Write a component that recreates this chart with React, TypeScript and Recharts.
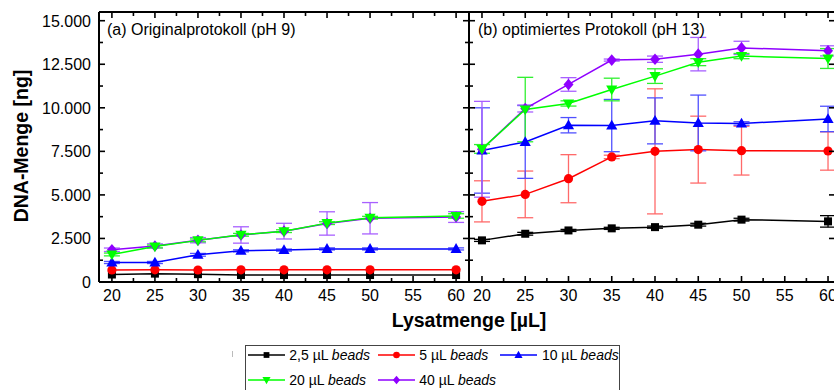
import React from "react";
import { LineChart, Line, XAxis, YAxis, ErrorBar } from "recharts";

const FONT = "Arial, 'Liberation Sans', Helvetica, sans-serif";

// ---------- data ----------
const lysatmenge = [20, 25, 30, 35, 40, 45, 50, 60];

const xMajorTicks = [20, 25, 30, 35, 40, 45, 50, 55, 60];
const xMinorTicks = [22.5, 27.5, 32.5, 37.5, 42.5, 47.5, 52.5, 57.5];
const yMajorTicks = [0, 2500, 5000, 7500, 10000, 12500, 15000];
const yTickLabels = ["0", "2.500", "5.000", "7.500", "10.000", "12.500", "15.000"];
const yMinorTicks = [1250, 3750, 6250, 8750, 11250, 13750];

const seriesNames = ["2,5 µL", "5 µL", "10 µL", "20 µL", "40 µL"];
const seriesColors = ["#000000", "#ff0000", "#0000ff", "#00ff00", "#8f00ff"];
const seriesShapes = ["square", "circle", "up", "down", "diamond"];

// (a) Originalprotokoll (pH 9)
const origBeads2_5 = [430, 480, 450, 400, 400, 400, 400, 400];
const origBeads2_5Err = [0, 0, 0, 0, 0, 0, 0, 0];
const origBeads5 = [690, 700, 690, 700, 700, 700, 700, 700];
const origBeads5Err = [0, 0, 0, 0, 0, 0, 0, 0];
const origBeads10 = [1120, 1120, 1560, 1790, 1830, 1900, 1900, 1900];
const origBeads10Err = [60, 60, 80, 60, 60, 60, 60, 60];
const origBeads20 = [1580, 2040, 2390, 2710, 2920, 3380, 3690, 3790];
const origBeads20Err = [80, 80, 80, 80, 80, 80, 80, 130];
const origBeads40 = [1850, 2070, 2400, 2700, 2920, 3360, 3660, 3730];
const origBeads40Err = [100, 120, 150, 470, 450, 670, 900, 310];

// (b) optimiertes Protokoll (pH 13)
const optBeads2_5 = [2390, 2770, 2960, 3080, 3150, 3290, 3580, 3480];
const optBeads2_5Err = [60, 80, 60, 60, 60, 80, 80, 330];
const optBeads5 = [4630, 5030, 5930, 7180, 7500, 7600, 7540, 7520];
const optBeads5Err = [1180, 1340, 1380, 100, 3590, 1920, 1400, 1100];
const optBeads10 = [7550, 8040, 9000, 8980, 9250, 9130, 9100, 9360];
const optBeads10Err = [2450, 2090, 440, 1500, 1320, 1600, 100, 730];
const optBeads20 = [7640, 9900, 10250, 11050, 11820, 12620, 12970, 12830];
const optBeads20Err = [250, 1850, 150, 650, 420, 200, 150, 570];
const optBeads40 = [7620, 9960, 11340, 12740, 12790, 13080, 13440, 13270];
const optBeads40Err = [2750, 200, 390, 60, 180, 960, 380, 290];

const panelA = lysatmenge.map((x, i) => ({
  x,
  s0: origBeads2_5[i], e0: origBeads2_5Err[i],
  s1: origBeads5[i], e1: origBeads5Err[i],
  s2: origBeads10[i], e2: origBeads10Err[i],
  s3: origBeads20[i], e3: origBeads20Err[i],
  s4: origBeads40[i], e4: origBeads40Err[i],
}));

const panelB = lysatmenge.map((x, i) => ({
  x,
  s0: optBeads2_5[i], e0: optBeads2_5Err[i],
  s1: optBeads5[i], e1: optBeads5Err[i],
  s2: optBeads10[i], e2: optBeads10Err[i],
  s3: optBeads20[i], e3: optBeads20Err[i],
  s4: optBeads40[i], e4: optBeads40Err[i],
}));

const xAllTicks = [...xMajorTicks, ...xMinorTicks].sort((a, b) => a - b);
const yAllTicks = [...yMajorTicks, ...yMinorTicks].sort((a, b) => a - b);
const X_DOMAIN: [number, number] = [18.5, 61.5];
const Y_DOMAIN: [number, number] = [0, 15500];

const isXMajor = (v: number) => xMajorTicks.includes(v);
const yLabelOf = (v: number) => {
  const i = yMajorTicks.indexOf(v);
  return i >= 0 ? yTickLabels[i] : null;
};

// ---------- markers ----------
function Marker({ shape, cx, cy, color, s = 1 }: any) {
  if (shape === "square")
    return <rect x={cx - 4 * s} y={cy - 4 * s} width={8 * s} height={8 * s} fill={color} />;
  if (shape === "circle") return <circle cx={cx} cy={cy} r={4.6 * s} fill={color} />;
  if (shape === "up")
    return (
      <polygon
        points={`${cx},${cy - 5.8 * s} ${cx + 5.6 * s},${cy + 4 * s} ${cx - 5.6 * s},${cy + 4 * s}`}
        fill={color}
      />
    );
  if (shape === "down")
    return (
      <polygon
        points={`${cx},${cy + 5.8 * s} ${cx + 5.6 * s},${cy - 4 * s} ${cx - 5.6 * s},${cy - 4 * s}`}
        fill={color}
      />
    );
  return (
    <polygon
      points={`${cx},${cy - 5.8 * s} ${cx + 5 * s},${cy} ${cx},${cy + 5.8 * s} ${cx - 5 * s},${cy}`}
      fill={color}
    />
  );
}

const makeDot = (shape: string, color: string) => (props: any) => {
  const { cx, cy, index } = props;
  if (cx == null || cy == null) return <g key={`d-${index}`} />;
  return (
    <g key={`d-${shape}-${index}`}>
      <Marker shape={shape} cx={cx} cy={cy} color={color} />
    </g>
  );
};

// ---------- ticks ----------
const BottomTick = (props: any) => {
  const { x, y, payload } = props;
  const v = payload.value;
  const major = isXMajor(v);
  return (
    <g>
      <line x1={x} x2={x} y1={y} y2={y - (major ? 6 : 4)} stroke="#000" strokeWidth={1.6} />
      {major && (
        <text x={x} y={y + 19} textAnchor="middle" fontSize={16} fontFamily={FONT} fill="#000">
          {v}
        </text>
      )}
    </g>
  );
};

const TopTick = (props: any) => {
  const { x, y, payload } = props;
  const major = isXMajor(payload.value);
  return <line x1={x} x2={x} y1={y} y2={y + (major ? 6 : 4)} stroke="#000" strokeWidth={1.6} />;
};

const LeftTick = (props: any) => {
  const { x, y, payload, showLabel } = props;
  const label = yLabelOf(payload.value);
  const major = label !== null;
  return (
    <g>
      <line x1={x} x2={x + (major ? 6 : 4)} y1={y} y2={y} stroke="#000" strokeWidth={1.6} />
      {showLabel && major && (
        <text x={x - 8} y={y + 6} textAnchor="end" fontSize={16} fontFamily={FONT} fill="#000">
          {label}
        </text>
      )}
    </g>
  );
};

const RightTick = (props: any) => {
  const { x, y, payload, majorLen, minorLen } = props;
  const major = yLabelOf(payload.value) !== null;
  return <line x1={x} x2={x - (major ? majorLen : minorLen)} y1={y} y2={y} stroke="#000" strokeWidth={1.6} />;
};

const AXIS_LINE = { stroke: "#000", strokeWidth: 2 };
const errColors = ["#000000", "#ff6a6a", "#5050ff", "#30f030", "#a860ff"];
const order = [0, 1, 2, 4, 3];

function renderLines() {
  return order.map((i) => (
    <Line
      key={`s${i}`}
      dataKey={`s${i}`}
      type="linear"
      stroke={seriesColors[i]}
      strokeWidth={1.5}
      dot={makeDot(seriesShapes[i], seriesColors[i])}
      activeDot={false}
      isAnimationActive={false}
    >
      <ErrorBar
        dataKey={`e${i}`}
        width={8}
        strokeWidth={1.3}
        stroke={errColors[i]}
        direction="y"
        isAnimationActive={false}
      />
    </Line>
  ));
}

function Panel({ data, width, leftWidth, rightWidth, showLabels, rMajor, rMinor }: any) {
  return (
    <LineChart width={width} height={390} data={data} margin={{ top: 0, right: 0, bottom: 0, left: 0 }}>
      <XAxis
        dataKey="x"
        type="number"
        domain={X_DOMAIN}
        allowDataOverflow
        ticks={xAllTicks}
        interval={0}
        height={108}
        tickSize={0}
        tickMargin={0}
        tickLine={false}
        axisLine={AXIS_LINE}
        tick={(p: any) => <BottomTick {...p} />}
      />
      <XAxis
        xAxisId="top"
        orientation="top"
        dataKey="x"
        type="number"
        domain={X_DOMAIN}
        allowDataOverflow
        ticks={xAllTicks}
        interval={0}
        height={12}
        tickSize={0}
        tickMargin={0}
        tickLine={false}
        axisLine={AXIS_LINE}
        tick={(p: any) => <TopTick {...p} />}
      />
      <YAxis
        type="number"
        domain={Y_DOMAIN}
        allowDataOverflow
        ticks={yAllTicks}
        interval={0}
        width={leftWidth}
        tickSize={0}
        tickMargin={0}
        tickLine={false}
        axisLine={AXIS_LINE}
        tick={(p: any) => <LeftTick {...p} showLabel={showLabels} />}
      />
      <YAxis
        yAxisId="right"
        orientation="right"
        type="number"
        domain={Y_DOMAIN}
        allowDataOverflow
        ticks={yAllTicks}
        interval={0}
        width={rightWidth}
        tickSize={0}
        tickMargin={0}
        tickLine={false}
        axisLine={AXIS_LINE}
        tick={(p: any) => <RightTick {...p} majorLen={rMajor} minorLen={rMinor} />}
      />
      {renderLines()}
    </LineChart>
  );
}

function LegendIcon({ i }: { i: number }) {
  return (
    <svg width={37} height={14} style={{ position: "absolute", left: 0, top: 0 }}>
      <line x1={0} x2={37} y1={7} y2={7} stroke={seriesColors[i]} strokeWidth={1.5} />
      <Marker shape={seriesShapes[i]} cx={18.5} cy={7} color={seriesColors[i]} s={0.72} />
    </svg>
  );
}

const legendSlots = [
  { left: 1.7, top: 2.3 },
  { left: 131.7, top: 2.3 },
  { left: 254.3, top: 2.3 },
  { left: 1.7, top: 27 },
  { left: 131.7, top: 27 },
];

export default function App() {
  return (
    <div
      style={{
        position: "fixed",
        left: 0,
        top: 0,
        width: 834,
        height: 390,
        overflow: "hidden",
        background: "#fff",
        fontFamily: FONT,
      }}
    >
      <div style={{ position: "absolute", left: 0, top: 0 }}>
        <Panel data={panelA} width={480} leftWidth={99} rightWidth={11} showLabels rMajor={6} rMinor={4} />
      </div>
      <div style={{ position: "absolute", left: 0, top: 0 }}>
        <Panel data={panelB} width={860} leftWidth={469} rightWidth={19} showLabels={false} rMajor={12} rMinor={6} />
      </div>

      <div style={{ position: "absolute", left: 107, top: 20, fontSize: 16, lineHeight: "20px", color: "#000", whiteSpace: "nowrap" }}>
        (a) Originalprotokoll (pH 9)
      </div>
      <div style={{ position: "absolute", left: 478, top: 20, fontSize: 16, lineHeight: "20px", color: "#000", whiteSpace: "nowrap" }}>
        (b) optimiertes Protokoll (pH 13)
      </div>

      <div
        style={{
          position: "absolute",
          left: 21,
          top: 145.5,
          transform: "translate(-50%, -50%) rotate(-90deg)",
          fontSize: 19.5,
          fontWeight: "bold",
          whiteSpace: "nowrap",
          color: "#000",
        }}
      >
        DNA-Menge [ng]
      </div>
      <div
        style={{
          position: "absolute",
          left: 469,
          top: 320,
          transform: "translate(-50%, -50%)",
          fontSize: 19.5,
          fontWeight: "bold",
          whiteSpace: "nowrap",
          color: "#000",
        }}
      >
        Lysatmenge [µL]
      </div>

      <div style={{ position: "absolute", left: 232, top: 351, width: 1, height: 6, background: "#bbb" }} />

      <div
        style={{
          position: "absolute",
          left: 245,
          top: 345,
          width: 375,
          height: 60,
          border: "1px solid #444",
          boxSizing: "border-box",
          background: "#fff",
        }}
      >
        {seriesNames.map((name, i) => (
          <div key={name} style={{ position: "absolute", left: legendSlots[i].left, top: legendSlots[i].top, height: 14 }}>
            <LegendIcon i={i} />
            <div
              style={{
                position: "absolute",
                left: 41.6,
                top: -2,
                fontSize: 14,
                lineHeight: "18px",
                whiteSpace: "nowrap",
                color: "#000",
              }}
            >
              {name} <i>beads</i>
            </div>
          </div>
        ))}
      </div>
    </div>
  );
}
